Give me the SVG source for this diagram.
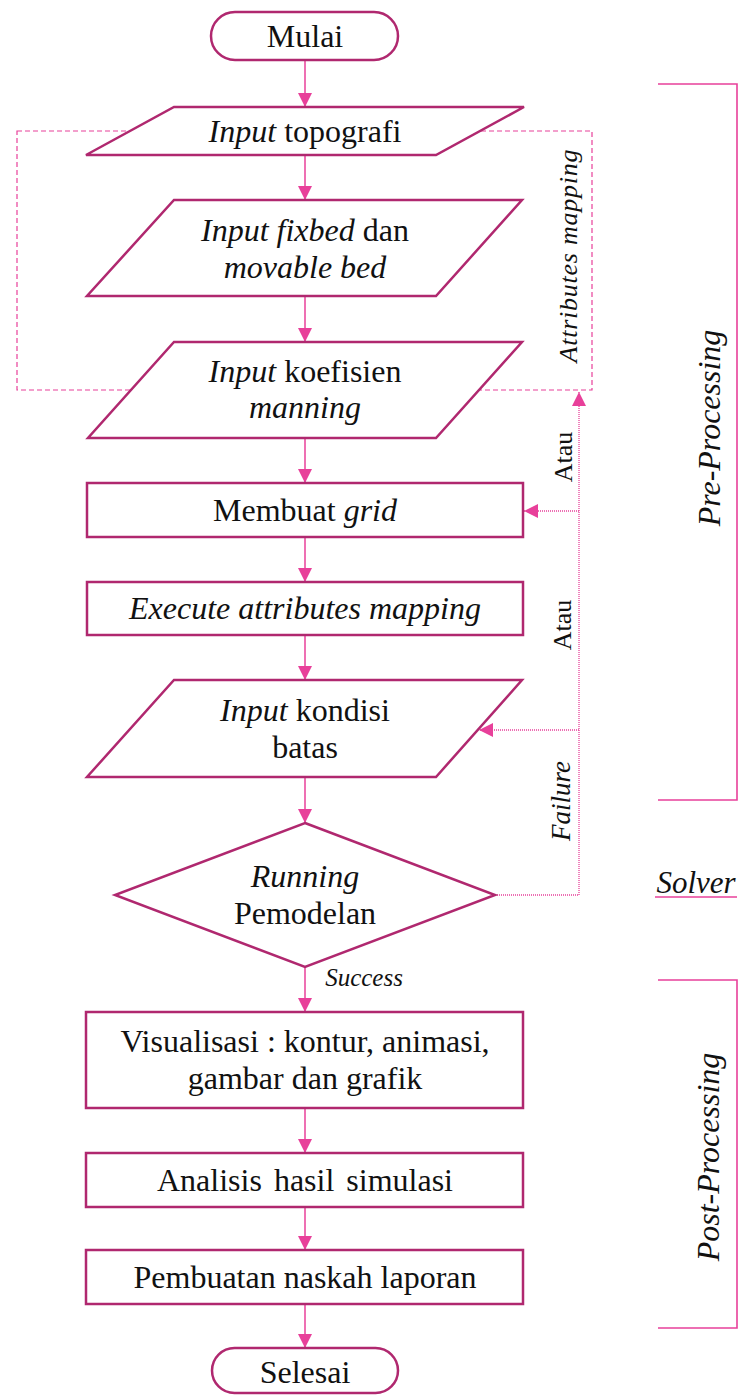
<svg xmlns="http://www.w3.org/2000/svg" width="739" height="1395" viewBox="0 0 739 1395">
<style>
.node{fill:#fff;stroke:#B0286F;stroke-width:2.5}
.t{font-family:"Liberation Serif","Times New Roman",serif;font-size:32px;fill:#111;text-anchor:middle}
.i{font-style:italic}
.c{fill:none;stroke:#E8409A;stroke-width:1.5}
.dot{fill:none;stroke:#E8409A;stroke-width:1.3;stroke-dasharray:1 1}
.dash{fill:none;stroke:#E8409A;stroke-width:1.2;stroke-dasharray:5 3}
.br{fill:none;stroke:#E8409A;stroke-width:1.6}
.lab{font-family:"Liberation Serif","Times New Roman",serif;fill:#111;text-anchor:middle}
</style>
<defs>
<marker id="ah" viewBox="0 0 14 14" refX="14" refY="7" markerWidth="14" markerHeight="14" markerUnits="userSpaceOnUse" orient="auto">
<path d="M0,0 L14,7 L0,14 Z" fill="#E8409A"/>
</marker>
</defs>
<g id="frames">
<rect class="dash" x="17" y="131" width="575" height="259"/>
<path class="br" d="M658,84 H737 V800 H658"/>
<path class="br" d="M658,980 H737 V1328 H658"/>
</g>
<g id="connectors">
<line class="c" x1="305" y1="60" x2="305" y2="107" marker-end="url(#ah)"/>
<line class="c" x1="305" y1="155" x2="305" y2="200" marker-end="url(#ah)"/>
<line class="c" x1="305" y1="296" x2="305" y2="342" marker-end="url(#ah)"/>
<line class="c" x1="305" y1="438" x2="305" y2="483" marker-end="url(#ah)"/>
<line class="c" x1="305" y1="537" x2="305" y2="582" marker-end="url(#ah)"/>
<line class="c" x1="305" y1="635" x2="305" y2="680" marker-end="url(#ah)"/>
<line class="c" x1="305" y1="777" x2="305" y2="823" marker-end="url(#ah)"/>
<line class="c" x1="305" y1="967" x2="305" y2="1012" marker-end="url(#ah)"/>
<line class="c" x1="305" y1="1108" x2="305" y2="1153" marker-end="url(#ah)"/>
<line class="c" x1="305" y1="1207" x2="305" y2="1250" marker-end="url(#ah)"/>
<line class="c" x1="305" y1="1304" x2="305" y2="1348" marker-end="url(#ah)"/>
<path class="dot" d="M495,895 H579 V392" marker-end="url(#ah)"/>
<line class="dot" x1="579" y1="511" x2="524" y2="511" marker-end="url(#ah)"/>
<line class="dot" x1="579" y1="730" x2="479" y2="730" marker-end="url(#ah)"/>
</g>
<g id="mulai">
<rect class="node" x="211" y="12" width="187" height="48" rx="24"/>
<text class="t" x="305" y="47">Mulai</text>
</g>
<g id="input-topografi">
<polygon class="node" points="174,107 524,107 436,155 86,155"/>
<text class="t" x="305" y="142"><tspan class="i">Input</tspan> topografi</text>
</g>
<g id="input-fixbed">
<polygon class="node" points="174,200 522,200 436,296 87,296"/>
<text class="t" x="305" y="241"><tspan class="i">Input fixbed</tspan> dan</text>
<text class="t i" x="305" y="278">movable bed</text>
</g>
<g id="input-manning">
<polygon class="node" points="174,342 522,342 436,438 88,438"/>
<text class="t" x="305" y="382"><tspan class="i">Input</tspan> koefisien</text>
<text class="t i" x="305" y="418">manning</text>
</g>
<g id="membuat-grid">
<rect class="node" x="87" y="483" width="436" height="54"/>
<text class="t" x="305" y="521">Membuat <tspan class="i">grid</tspan></text>
</g>
<g id="execute">
<rect class="node" x="87" y="582" width="436" height="53"/>
<text class="t i" x="305" y="619">Execute attributes mapping</text>
</g>
<g id="input-kondisi">
<polygon class="node" points="174,680 522,680 436,777 87,777"/>
<text class="t" x="305" y="721"><tspan class="i">Input</tspan> kondisi</text>
<text class="t" x="305" y="758">batas</text>
</g>
<g id="running">
<polygon class="node" points="305,823 495,895 305,967 115,895"/>
<text class="t" x="305" y="887"><tspan class="i">Running</tspan></text>
<text class="t" x="305" y="924">Pemodelan</text>
</g>
<g id="visualisasi">
<rect class="node" x="86" y="1012" width="437" height="96"/>
<text class="t" x="305" y="1052">Visualisasi : kontur, animasi,</text>
<text class="t" x="305" y="1089">gambar dan grafik</text>
</g>
<g id="analisis">
<rect class="node" x="86" y="1153" width="437" height="54"/>
<text class="t" x="305" y="1191" word-spacing="4">Analisis hasil simulasi</text>
</g>
<g id="pembuatan">
<rect class="node" x="86" y="1250" width="437" height="54"/>
<text class="t" x="305" y="1288">Pembuatan naskah laporan</text>
</g>
<g id="selesai">
<rect class="node" x="212" y="1348" width="186" height="45" rx="22.5"/>
<text class="t" x="305" y="1383">Selesai</text>
</g>
<g id="labels">
<text class="lab i" font-size="25" x="364" y="986">Success</text>
<text class="lab i" font-size="26" transform="translate(577,256) rotate(-90)" textLength="213" lengthAdjust="spacing">Attributes mapping</text>
<text class="lab" font-size="26" transform="translate(572,457) rotate(-90)">Atau</text>
<text class="lab" font-size="26" transform="translate(571,625) rotate(-90)">Atau</text>
<text class="lab i" font-size="27" transform="translate(570,801) rotate(-90)">Failure</text>
<text class="lab i" font-size="32" transform="translate(720,428) rotate(-90)">Pre-Processing</text>
<text class="lab i" font-size="32" transform="translate(719,1157) rotate(-90)">Post-Processing</text>
<text class="lab i" font-size="31" x="696" y="893">Solver</text>
<line x1="655" y1="897" x2="737" y2="897" stroke="#E8409A" stroke-width="1.5"/>
</g>
</svg>
